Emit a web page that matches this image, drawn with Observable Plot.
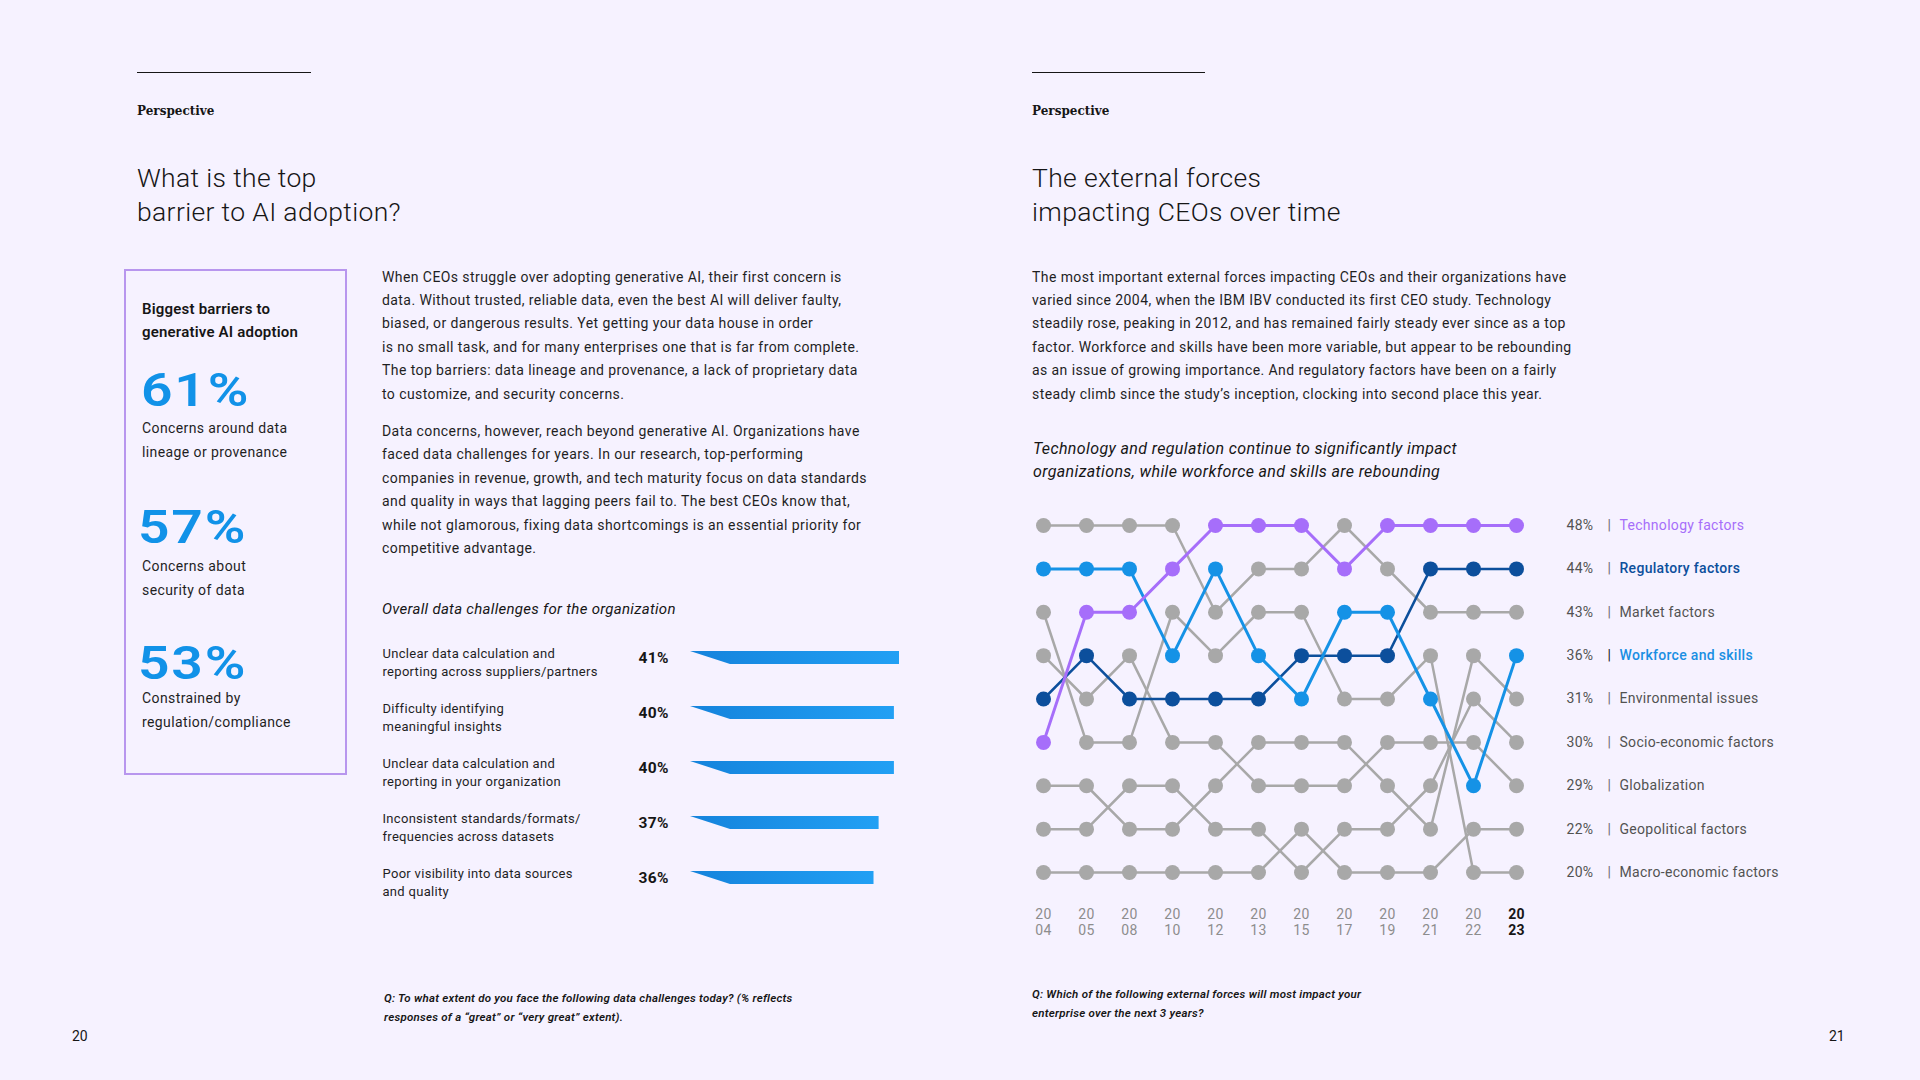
<!DOCTYPE html>
<html>
<head>
<meta charset="utf-8">
<script src="https://cdn.jsdelivr.net/npm/d3@7"></script>
<script src="https://cdn.jsdelivr.net/npm/@observablehq/plot@0.6"></script>
<style>
  html, body { margin: 0; padding: 0; }
  body {
    width: 1920px; height: 1080px; position: relative; overflow: hidden;
    background: #f6f2ff; color: #161616;
    font-family: Roboto, "IBM Plex Sans", "Noto Sans", sans-serif;
  }
  .abs { position: absolute; white-space: nowrap; }
  .rule { position: absolute; height: 1px; background: #161616; }
  .persp { font-family: "DejaVu Serif", "Liberation Serif", serif; font-weight: bold; font-size: 12px; line-height: 16px; }
  .title { font-size: 26.5px; font-weight: 300; line-height: 33.5px; color: #161616; letter-spacing: 0.35px; }
  .body { font-size: 14px; line-height: 23.4px; color: #1f1f1f; letter-spacing: 0.42px; }
  .box { position: absolute; border: 2px solid #b896ee; box-sizing: border-box; }
  .boxhead { font-size: 15px; font-weight: 600; line-height: 23.6px; letter-spacing: 0.2px; }
  .big { font-size: 46px; font-weight: 600; line-height: 46px; color: #1192e8; letter-spacing: 1.5px;
         transform: scaleX(1.2); transform-origin: left center; }
  .desc { font-size: 14px; line-height: 24px; color: #1f1f1f; letter-spacing: 0.4px; }
  .ital { font-style: italic; }
  .foot { font-size: 11.5px; font-weight: 600; font-style: italic; line-height: 18.5px; letter-spacing: 0.25px; }
  .pnum { font-size: 14px; line-height: 20px; }
</style>
</head>
<body>
  <!-- left page -->
  <div class="rule" style="left:137px;top:72px;width:174px;"></div>
  <div class="abs persp" style="left:137px;top:103px;">Perspective</div>
  <div class="abs title" style="left:137px;top:161px;">What is the top<br>barrier to AI adoption?</div>

  <div class="box" style="left:124px;top:269px;width:223px;height:506px;"></div>
  <div class="abs boxhead" style="left:142px;top:297.5px;">Biggest barriers to<br>generative AI adoption</div>
  <div class="abs big" style="left:141px;top:367px;">61%</div>
  <div class="abs desc" style="left:142px;top:416px;">Concerns around data<br>lineage or provenance</div>
  <div class="abs big" style="left:138px;top:504px;">57%</div>
  <div class="abs desc" style="left:142px;top:553.5px;">Concerns about<br>security of data</div>
  <div class="abs big" style="left:138px;top:640px;">53%</div>
  <div class="abs desc" style="left:142px;top:686px;">Constrained by<br>regulation/compliance</div>

  <div class="abs body" style="left:382px;top:265.5px;">When CEOs struggle over adopting generative AI, their first concern is<br>data. Without trusted, reliable data, even the best AI will deliver faulty,<br>biased, or dangerous results. Yet getting your data house in order<br>is no small task, and for many enterprises one that is far from complete.<br>The top barriers: data lineage and provenance, a lack of proprietary data<br>to customize, and security concerns.</div>
  <div class="abs body" style="left:382px;top:420px;">Data concerns, however, reach beyond generative AI. Organizations have<br>faced data challenges for years. In our research, top-performing<br>companies in revenue, growth, and tech maturity focus on data standards<br>and quality in ways that lagging peers fail to. The best CEOs know that,<br>while not glamorous, fixing data shortcomings is an essential priority for<br>competitive advantage.</div>

  <div class="abs ital" style="left:382px;top:598px;font-size:15px;line-height:22px;letter-spacing:0.3px;">Overall data challenges for the organization</div>
  <div id="bars" class="abs" style="left:375px;top:630px;width:540px;height:276px;"></div>

  <div class="abs foot" style="left:384px;top:989px;">Q: To what extent do you face the following data challenges today? (% reflects<br>responses of a “great” or “very great” extent).</div>
  <div class="abs pnum" style="left:72px;top:1026px;">20</div>

  <!-- right page -->
  <div class="rule" style="left:1032px;top:72px;width:173px;"></div>
  <div class="abs persp" style="left:1032px;top:103px;">Perspective</div>
  <div class="abs title" style="left:1032px;top:161px;">The external forces<br>impacting CEOs over time</div>

  <div class="abs body" style="left:1032px;top:265.5px;">The most important external forces impacting CEOs and their organizations have<br>varied since 2004, when the IBM IBV conducted its first CEO study. Technology<br>steadily rose, peaking in 2012, and has remained fairly steady ever since as a top<br>factor. Workforce and skills have been more variable, but appear to be rebounding<br>as an issue of growing importance. And regulatory factors have been on a fairly<br>steady climb since the study’s inception, clocking into second place this year.</div>
  <div class="abs ital" style="left:1033px;top:436.5px;font-size:16px;line-height:23px;letter-spacing:0.37px;">Technology and regulation continue to significantly impact<br>organizations, while workforce and skills are rebounding</div>

  <div id="bump" class="abs" style="left:1000px;top:500px;width:800px;height:450px;"></div>

  <div class="abs foot" style="left:1032px;top:985px;">Q: Which of the following external forces will most impact your<br>enterprise over the next 3 years?</div>
  <div class="abs pnum" style="left:1829px;top:1026px;">21</div>

<script>
// ---------- data: bar chart ----------
const barLabels = [
  "Unclear data calculation and\nreporting across suppliers/partners",
  "Difficulty identifying\nmeaningful insights",
  "Unclear data calculation and\nreporting in your organization",
  "Inconsistent standards/formats/\nfrequencies across datasets",
  "Poor visibility into data sources\nand quality"
];
const barValues = [41, 40, 40, 37, 36];

// ---------- data: bump chart ----------
const years = ["2004","2005","2008","2010","2012","2013","2015","2017","2019","2021","2022","2023"];
const factors = [
  "Technology factors", "Regulatory factors", "Market factors", "Workforce and skills",
  "Environmental issues", "Socio-economic factors", "Globalization",
  "Geopolitical factors", "Macro-economic factors"
];
const technologyRanks    = [6,3,3,2,1,1,1,2,1,1,1,1];
const regulatoryRanks    = [5,4,5,5,5,5,4,4,4,2,2,2];
const marketRanks        = [1,1,1,1,3,2,2,1,2,3,3,3];
const workforceRanks     = [2,2,2,4,2,4,5,3,3,5,7,4];
const environmentalRanks = [7,7,8,8,7,6,6,6,7,8,4,5];
const socioEconomicRanks = [8,8,7,7,8,8,9,8,8,7,5,6];
const globalizationRanks = [4,5,4,6,6,7,7,7,6,6,6,7];
const geopoliticalRanks  = [9,9,9,9,9,9,8,9,9,9,8,8];
const macroEconomicRanks = [3,6,6,3,4,3,3,5,5,4,9,9];
const share2023 = [48, 44, 43, 36, 31, 30, 29, 22, 20];

// ---------- bar chart ----------
const bars = barLabels.map((label, i) => ({label, value: barValues[i]}));

function wedge(index, scales, values, dimensions, context, next) {
  const g = next(index, scales, values, dimensions, context);
  d3.select(g).selectAll("rect").each(function () {
    const r = d3.select(this);
    const x = +r.attr("x"), y = +r.attr("y"), w = +r.attr("width"), h = +r.attr("height");
    const p = d3.select(this.parentNode).insert("path", () => this);
    p.attr("d", `M${x},${y}H${x + w}V${y + h}H${x + 40}Z`);
    r.remove();
  });
  return g;
}

const barSvg = Plot.plot({
  width: 540, height: 276,
  marginTop: 0, marginBottom: 0, marginLeft: 315, marginRight: 16,
  style: {background: "transparent", overflow: "visible", fontFamily: "Roboto, 'Noto Sans', sans-serif", color: "#1f1f1f", letterSpacing: "0.3px"},
  x: {domain: [0, 41], axis: null},
  y: {type: "band", domain: barLabels, paddingInner: 0.755, paddingOuter: 0.3775, axis: null},
  marks: [
    Plot.barX(bars, {x: "value", y: "label", fill: "url(#barGrad)", render: wedge}),
    Plot.text(bars, {y: "label", frameAnchor: "left", dx: -308, dy: 3, text: "label", textAnchor: "start",
      fontSize: 13, lineHeight: 1.385, fill: "#1f1f1f"}),
    Plot.text(bars, {y: "label", frameAnchor: "left", dx: -52, text: d => d.value + "%", textAnchor: "start",
      fontSize: 15.5, fontWeight: "bold", fill: "#161616"})
  ]
});
d3.select(barSvg).insert("defs", ":first-child").html(
  '<linearGradient id="barGrad" x1="0" x2="1" y1="0" y2="0">' +
  '<stop offset="0" stop-color="#1483dc"/><stop offset="1" stop-color="#22a0f4"/></linearGradient>'
);
document.getElementById("bars").append(barSvg);

// ---------- bump chart ----------
const rankArrays = [technologyRanks, regulatoryRanks, marketRanks, workforceRanks,
  environmentalRanks, socioEconomicRanks, globalizationRanks, geopoliticalRanks, macroEconomicRanks];
const long = factors.flatMap((f, i) => years.map((y, j) => ({factor: f, year: y, rank: rankArrays[i][j]})));
const highlightColor = {
  "Technology factors": "#a66efa",
  "Regulatory factors": "#0c4f9c",
  "Workforce and skills": "#1592e6"
};
const grayColor = "#a8a8a8";
const grayData = long.filter(d => !highlightColor[d.factor]);
const series = f => long.filter(d => d.factor === f);
const last = factors.map((f, i) => ({factor: f, year: "2023", rank: rankArrays[i][years.length - 1], share: share2023[i]}));
const boldNames = ["Regulatory factors", "Workforce and skills"];
const nameColor = d => d.factor === "Technology factors" ? "#a66efa"
  : d.factor === "Regulatory factors" ? "#0c4f9c"
  : d.factor === "Workforce and skills" ? "#1a8fe3" : "#525252";

const hlMarks = ["Regulatory factors", "Workforce and skills", "Technology factors"].flatMap(f => [
  Plot.line(series(f), {x: "year", y: "rank", stroke: highlightColor[f], strokeWidth: f === "Regulatory factors" ? 2.5 : 3}),
  Plot.dot(series(f), {x: "year", y: "rank", r: 7.5, fill: highlightColor[f]})
]);

const bumpSvg = Plot.plot({
  width: 800, height: 450,
  marginTop: 25, marginBottom: 78, marginLeft: 41, marginRight: 283,
  style: {background: "transparent", overflow: "visible", fontFamily: "Roboto, 'Noto Sans', sans-serif", letterSpacing: "0.3px"},
  x: {type: "point", domain: years, padding: 0, axis: null},
  y: {domain: [1, 9], range: [25, 372], axis: null},
  marks: [
    Plot.line(grayData, {x: "year", y: "rank", z: "factor", stroke: grayColor, strokeWidth: 2.5}),
    Plot.dot(grayData, {x: "year", y: "rank", r: 7.5, fill: grayColor}),
    ...hlMarks,
    Plot.text(years.filter(y => y !== "2023"), {x: d => d, frameAnchor: "bottom", dy: 62.5,
      text: d => d.slice(0, 2) + "\n" + d.slice(2), fill: "#8d8d8d", fontSize: 14, lineHeight: 1.12}),
    Plot.text(["2023"], {x: d => d, frameAnchor: "bottom", dy: 62.5,
      text: d => d.slice(0, 2) + "\n" + d.slice(2), fill: "#161616", fontSize: 14, lineHeight: 1.12, fontWeight: "bold"}),
    Plot.text(last, {x: "year", y: "rank", dx: 50, text: d => d.share + "%", textAnchor: "start", fill: "#525252", fontSize: 14}),
    Plot.text(last, {x: "year", y: "rank", dx: 91, text: () => "|", textAnchor: "start",
      fill: d => d.factor === "Workforce and skills" ? "#161616" : "#6f6f6f", fontSize: 14}),
    Plot.text(last.filter(d => !boldNames.includes(d.factor)), {x: "year", y: "rank", dx: 103, text: "factor",
      textAnchor: "start", fill: nameColor, fontSize: 14}),
    Plot.text(last.filter(d => boldNames.includes(d.factor)), {x: "year", y: "rank", dx: 103, text: "factor",
      textAnchor: "start", fill: nameColor, fontSize: 14, fontWeight: 500})
  ]
});
document.getElementById("bump").append(bumpSvg);
</script>
</body>
</html>
